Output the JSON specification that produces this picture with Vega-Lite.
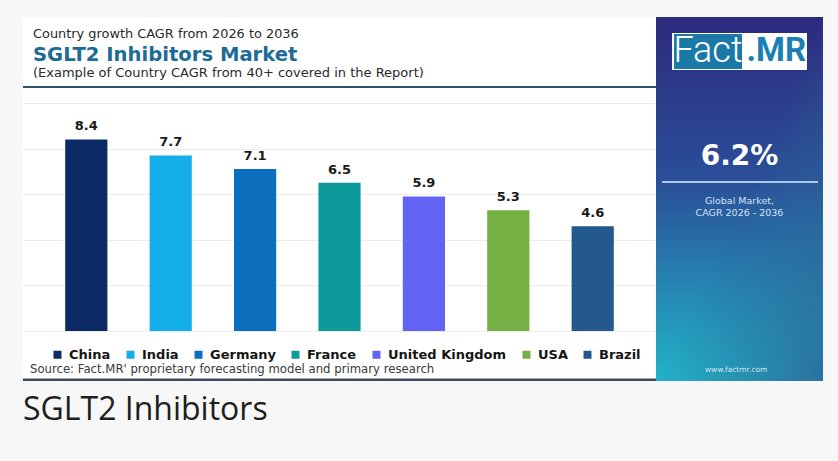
{
  "$schema": "https://vega.github.io/schema/vega-lite/v6.json",
  "background": "#f7f7f7",
  "padding": {"left": 23, "top": 17, "right": 15, "bottom": 40},
  "autosize": {"type": "pad"},
  "bounds": "flush",
  "title": {"text": "SGLT2 Inhibitors", "orient": "bottom", "anchor": "start", "offset": 14, "font": "Open Sans", "fontSize": 32, "fontWeight": "normal", "color": "#1e1e1e"},
  "config": {"view": {"stroke": null}, "font": "DejaVu Sans"},
  "spacing": 0,
  "hconcat": [
    {
      "width": 633,
      "height": 364,
      "view": {"fill": "white", "stroke": null},
      "resolve": {"scale": {"x": "independent"}},
      "layer": [
        {
          "data": {"values": [
            {"country": "China", "cagr": 8.4},
            {"country": "India", "cagr": 7.7},
            {"country": "Germany", "cagr": 7.1},
            {"country": "France", "cagr": 6.5},
            {"country": "United Kingdom", "cagr": 5.9},
            {"country": "USA", "cagr": 5.3},
            {"country": "Brazil", "cagr": 4.6}
          ]},
          "encoding": {
            "x": {"field": "country", "type": "nominal", "sort": null, "axis": null, "scale": {"type": "band", "paddingInner": 0.5, "paddingOuter": 0.5}}
          },
          "layer": [
            {
              "mark": {"type": "bar"},
              "encoding": {
                "y": {"field": "cagr", "type": "quantitative", "scale": {"domain": [-2.19, 13.77], "nice": false, "zero": false},
                      "axis": {"values": [0, 2, 4, 6, 8, 10], "grid": true, "gridColor": "#ececec", "gridWidth": 1, "labels": false, "ticks": false, "domain": false, "title": null, "minExtent": 0}},
                "y2": {"datum": 0},
                "color": {"field": "country", "type": "nominal", "sort": null,
                  "scale": {"domain": ["China", "India", "Germany", "France", "United Kingdom", "USA", "Brazil"],
                            "range": ["#0c2a66", "#14aeea", "#0b6fbd", "#0e9a9b", "#6264f5", "#74b043", "#23598c"]},
                  "legend": {"title": null, "orient": "none", "legendX": 28, "legendY": 331, "direction": "horizontal", "padding": 0,
                             "symbolType": "square", "symbolSize": 64, "symbolStrokeWidth": 0, "labelOffset": 5, "columnPadding": 13,
                             "labelFont": "DejaVu Sans", "labelFontWeight": "bold", "labelFontSize": 13, "labelColor": "#151515"}}
              }
            },
            {
              "mark": {"type": "text", "dy": -9, "baseline": "alphabetic", "font": "DejaVu Sans", "fontWeight": "bold", "fontSize": 13, "color": "#1a1a1a"},
              "encoding": {
                "y": {"field": "cagr", "type": "quantitative"},
                "text": {"field": "cagr", "type": "quantitative", "format": ".1f"}
              }
            }
          ]
        },
        {
          "layer": [
            {
              "data": {"values": [{"t": "Country growth CAGR from 2026 to 2036"}]},
              "mark": {"type": "text", "align": "left", "baseline": "middle", "font": "DejaVu Sans", "fontSize": 12.9, "color": "#2a2a2a"},
              "encoding": {
                "x": {"datum": 1.58, "type": "quantitative", "scale": {"domain": [0, 100]}, "axis": null},
                "y": {"datum": 13.03, "type": "quantitative"},
                "text": {"field": "t"}
              }
            },
            {
              "data": {"values": [{"t": "SGLT2 Inhibitors Market"}]},
              "mark": {"type": "text", "align": "left", "baseline": "middle", "font": "DejaVu Sans", "fontWeight": "bold", "fontSize": 19.6, "color": "#1d6b97"},
              "encoding": {
                "x": {"datum": 1.58, "type": "quantitative"},
                "y": {"datum": 12.1, "type": "quantitative"},
                "text": {"field": "t"}
              }
            },
            {
              "data": {"values": [{"t": "(Example of Country CAGR from 40+ covered in the Report)"}]},
              "mark": {"type": "text", "align": "left", "baseline": "middle", "font": "DejaVu Sans", "fontSize": 13, "color": "#2a2a2a"},
              "encoding": {
                "x": {"datum": 1.58, "type": "quantitative"},
                "y": {"datum": 11.3, "type": "quantitative"},
                "text": {"field": "t"}
              }
            },
            {
              "data": {"values": [{"t": "Source: Fact.MR' proprietary forecasting model and primary research"}]},
              "mark": {"type": "text", "align": "left", "baseline": "middle", "font": "DejaVu Sans", "fontSize": 11.7, "color": "#3a3a3a"},
              "encoding": {
                "x": {"datum": 1.1, "type": "quantitative"},
                "y": {"datum": -1.67, "type": "quantitative"},
                "text": {"field": "t"}
              }
            },
            {
              "data": {"values": [{"line": "header"}]},
              "mark": {"type": "rect", "color": "#2d5468"},
              "encoding": {"y": {"datum": 10.656, "type": "quantitative"}, "y2": {"datum": 10.744}}
            },
            {
              "data": {"values": [{"line": "footer"}]},
              "mark": {"type": "rect", "color": "#3b4d5c"},
              "encoding": {"y": {"datum": -2.19, "type": "quantitative"}, "y2": {"datum": -2.08}}
            }
          ]
        }
      ]
    },
    {
      "width": 167,
      "height": 364,
      "layer": [
        {
          "data": {"values": [{"part": "panel"}]},
          "mark": {"type": "rect", "color": {"gradient": "linear", "x1": 0.5, "y1": 0, "x2": 0.5, "y2": 1,
            "stops": [{"offset": 0, "color": "#2d2a7e"}, {"offset": 0.45, "color": "#2a4f98"}, {"offset": 1, "color": "#22b4c9"}]}},
          "encoding": {}
        },
        {
          "data": {"values": [{"part": "shade"}]},
          "mark": {"type": "rect", "color": {"gradient": "linear", "x1": 0, "y1": 0, "x2": 1, "y2": 1,
            "stops": [{"offset": 0, "color": "rgba(43,106,154,0)"}, {"offset": 0.5, "color": "rgba(43,106,154,0)"}, {"offset": 1, "color": "rgba(43,106,154,0.9)"}]}},
          "encoding": {}
        },
        {
          "data": {"values": [{"part": "logo"}]},
          "mark": {"type": "rect", "color": "white"},
          "encoding": {
            "x": {"datum": 0.096, "type": "quantitative", "scale": {"domain": [0, 1]}, "axis": null},
            "x2": {"datum": 0.904},
            "y": {"datum": 13.07, "type": "quantitative", "scale": {"domain": [-2.19, 13.77], "nice": false, "zero": false}, "axis": null},
            "y2": {"datum": 11.45}
          }
        },
        {
          "data": {"values": [{"part": "logo box"}]},
          "mark": {"type": "rect", "color": "#1b79a8"},
          "encoding": {
            "x": {"datum": 0.108, "type": "quantitative"},
            "x2": {"datum": 0.515},
            "y": {"datum": 13.03, "type": "quantitative"},
            "y2": {"datum": 11.49}
          }
        },
        {
          "data": {"values": [{"t": "Fact"}]},
          "mark": {"type": "text", "baseline": "middle", "align": "center", "font": "Roboto", "fontWeight": 300, "fontSize": 36, "color": "white"},
          "encoding": {
            "x": {"datum": 0.311, "type": "quantitative"},
            "y": {"datum": 12.26, "type": "quantitative"},
            "text": {"field": "t"}
          }
        },
        {
          "data": {"values": [{"t": ".MR"}]},
          "mark": {"type": "text", "baseline": "middle", "align": "center", "font": "Roboto", "fontWeight": "bold", "fontSize": 33, "color": "#1a7fb3"},
          "encoding": {
            "x": {"datum": 0.72, "type": "quantitative"},
            "y": {"datum": 12.26, "type": "quantitative"},
            "text": {"field": "t"}
          }
        },
        {
          "data": {"values": [{"t": "6.2%"}]},
          "mark": {"type": "text", "baseline": "middle", "align": "center", "font": "DejaVu Sans", "fontWeight": "bold", "fontSize": 28, "color": "white"},
          "encoding": {
            "x": {"datum": 0.5, "type": "quantitative"},
            "y": {"datum": 7.63, "type": "quantitative"},
            "text": {"field": "t"}
          }
        },
        {
          "data": {"values": [{"part": "divider"}]},
          "mark": {"type": "rect", "color": "#a9c8ea"},
          "encoding": {
            "x": {"datum": 0.036, "type": "quantitative"},
            "x2": {"datum": 0.97},
            "y": {"datum": 6.49, "type": "quantitative"},
            "y2": {"datum": 6.58}
          }
        },
        {
          "data": {"values": [{"t": "Global Market,"}]},
          "mark": {"type": "text", "baseline": "middle", "align": "center", "font": "DejaVu Sans", "fontSize": 9.5, "color": "#d3e4f4"},
          "encoding": {
            "x": {"datum": 0.5, "type": "quantitative"},
            "y": {"datum": 5.70, "type": "quantitative"},
            "text": {"field": "t"}
          }
        },
        {
          "data": {"values": [{"t": "CAGR 2026 - 2036"}]},
          "mark": {"type": "text", "baseline": "middle", "align": "center", "font": "DejaVu Sans", "fontSize": 9.5, "color": "#d3e4f4"},
          "encoding": {
            "x": {"datum": 0.5, "type": "quantitative"},
            "y": {"datum": 5.18, "type": "quantitative"},
            "text": {"field": "t"}
          }
        },
        {
          "data": {"values": [{"t": "www.factmr.com"}]},
          "mark": {"type": "text", "baseline": "middle", "align": "center", "font": "DejaVu Sans", "fontSize": 7.5, "color": "#cfe3ee"},
          "encoding": {
            "x": {"datum": 0.48, "type": "quantitative"},
            "y": {"datum": -1.71, "type": "quantitative"},
            "text": {"field": "t"}
          }
        }
      ]
    }
  ]
}
